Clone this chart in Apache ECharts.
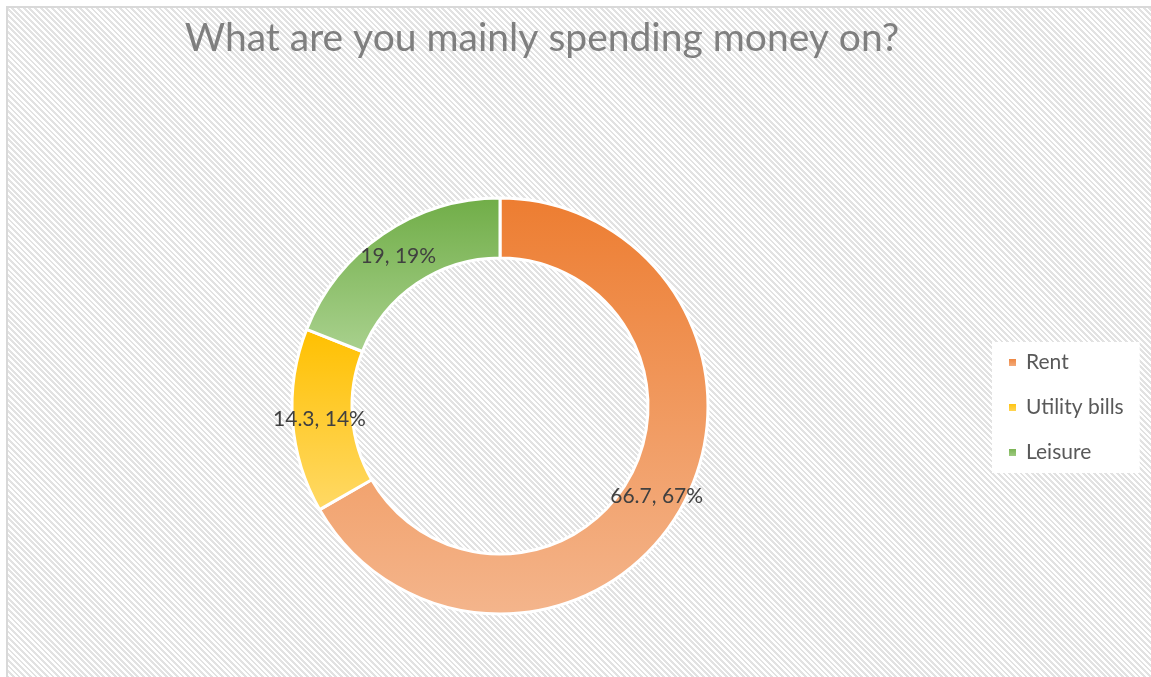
<!DOCTYPE html>
<html>
<head>
<meta charset="utf-8">
<script src="https://cdn.jsdelivr.net/npm/echarts@6/dist/echarts.min.js"></script>
<style>
  html, body { margin: 0; padding: 0; background: #fff; }
  #frame {
    position: absolute; left: 6px; top: 6px; width: 1160px; height: 690px;
    border-left: 2px solid #d9d9d9; border-top: 2px solid #d9d9d9;
    background: repeating-linear-gradient(45deg, #ffffff 0px, #ffffff 2px, #e2e2e2 2px, #e2e2e2 4px);
  }
  #main { position: absolute; left: 0; top: 0; width: 1151px; height: 677px; }
</style>
</head>
<body>
<div id="frame"></div>
<div id="main"></div>
<script>
// 数据
var categories = ['Rent', 'Utility bills', 'Leisure'];
var values = [66.7, 14.3, 19];
var percents = [67, 14, 19];
// 渐变色 上深下浅
var topColors = ['#ED7D31', '#FFC000', '#70AD47'];
var bottomColors = ['#F4B58C', '#FFD966', '#A9D18E'];

var chart = echarts.init(document.getElementById('main'));

var pieData = categories.map(function (name, i) {
  return {
    name: name,
    value: values[i],
    itemStyle: {
      color: new echarts.graphic.LinearGradient(0, 0, 0, 1, [
        { offset: 0, color: topColors[i] },
        { offset: 1, color: bottomColors[i] }
      ])
    },
    label: { formatter: values[i] + ', ' + percents[i] + '%' }
  };
});

chart.setOption({
  backgroundColor: 'transparent',
  animation: false,
  title: {
    text: 'What are you mainly spending money on?',
    left: 537,
    top: 14,
    textAlign: 'center',
    textStyle: { fontFamily: 'Lato', fontWeight: 'normal', fontSize: 39, color: '#7f7f7f' }
  },
  legend: {
    orient: 'vertical',
    left: 992,
    top: 342,
    itemWidth: 9,
    itemHeight: 9,
    itemGap: 24,
    icon: 'rect',
    padding: [10, 16, 10, 15],
    backgroundColor: '#ffffff',
    textStyle: { fontFamily: 'Lato', fontSize: 21, color: '#595959', lineHeight: 21, padding: [0, 0, 0, 4] },
    data: categories
  },
  series: [{
    type: 'pie',
    center: [500, 406],
    radius: [148, 208],
    startAngle: 90,
    clockwise: true,
    itemStyle: { borderColor: '#ffffff', borderWidth: 3 },
    label: {
      show: true,
      position: 'inside',
      fontFamily: 'Lato',
      fontSize: 21,
      color: '#404040'
    },
    labelLine: { show: false },
    emphasis: { disabled: true },
    data: pieData
  }]
});
</script>
</body>
</html>
